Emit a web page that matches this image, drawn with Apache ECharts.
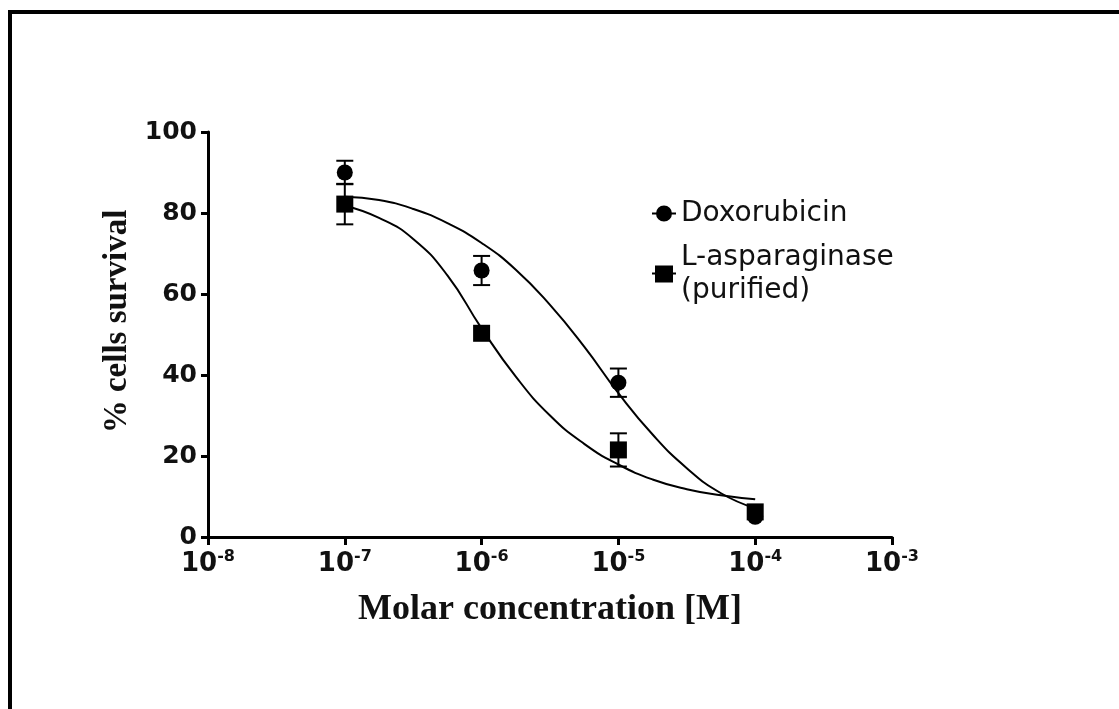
<!DOCTYPE html>
<html>
<head>
<meta charset="utf-8">
<title>Cell survival vs molar concentration</title>
<script src="https://cdn.jsdelivr.net/npm/echarts@6/dist/echarts.min.js"></script>
<style>
    html, body { margin: 0; padding: 0; background: #fff; }
    #chart { width: 1119px; height: 709px; }
</style>
</head>
<body>
<div id="chart"></div>
<script>
// measured points (molar concentration, % survival, error half-width)
const concentrations = [1e-7, 1e-6, 1e-5, 1e-4]
const doxoMean = [90, 65.8, 38.1, 5]
const doxoErr = [2.9, 3.6, 3.5, 0]
const aspMean = [82.2, 50.3, 21.5, 6.2]
const aspErr = [5, 0, 4.1, 0]

// fitted curves, every quarter decade (x = log10 of concentration)
const fitExponents = [-7, -6.75, -6.5, -6.25, -6, -5.75, -5.5, -5.25, -5, -4.75, -4.5, -4.25, -4]
const doxoFit = [84, 83.2, 81, 77.5, 72.6, 66, 57.3, 47, 35.5, 25.3, 17, 10.8, 7.1]
const aspFit = [81.8, 78.8, 73.6, 64.6, 51.5, 39.6, 30, 23, 17.9, 14.2, 11.8, 10.3, 9.3]

const xTickExponents = [-8, -7, -6, -5, -4, -3]
const yTicks = [0, 20, 40, 60, 80, 100]

const seriesNames = ['Doxorubicin', 'L-asparaginase (purified)']

const chart = echarts.init(document.getElementById('chart'))

const pairs = (ys) => concentrations.map((c, i) => [c, ys[i]])
const fitPairs = (ys) => fitExponents.map((e, i) => [e, ys[i]])
const errRows = (m, e) => concentrations.map((c, i) => [c, m[i] - e[i], m[i] + e[i]])

// vertical error bar with caps
function renderErr(params, api) {
    const lo = api.value(1)
    const hi = api.value(2)
    if (hi - lo <= 0) return
    const top = api.coord([api.value(0), hi])
    const bot = api.coord([api.value(0), lo])
    const w = 8.5
    const st = { stroke: '#000', lineWidth: 2 }
    return {
        type: 'group',
        children: [
            { type: 'line', shape: { x1: top[0], y1: top[1], x2: bot[0], y2: bot[1] }, style: st },
            { type: 'line', shape: { x1: top[0] - w, y1: top[1], x2: top[0] + w, y2: top[1] }, style: st },
            { type: 'line', shape: { x1: bot[0] - w, y1: bot[1], x2: bot[0] + w, y2: bot[1] }, style: st }
        ]
    }
}

const legendText = {
    fontFamily: 'DejaVu Sans',
    fontSize: 28,
    color: '#111',
    lineHeight: 33
}

const option = {
    animation: false,
    backgroundColor: '#fff',
    graphic: [
        {
            type: 'polyline',
            shape: { points: [[10, 709], [10, 12], [1119, 12]] },
            style: { stroke: '#000', lineWidth: 4, fill: null }
        }
    ],
    grid: {
        left: 208,
        right: 227,
        top: 132,
        bottom: 172,
        containLabel: false
    },
    legend: [
        {
            data: [seriesNames[0]],
            left: 647,
            top: 192,
            icon: 'path://M0,7H5V9H0Z M19,7H24V9H19Z M12,0A8,8,0,1,1,11.99,0Z',
            itemWidth: 24,
            itemHeight: 16,
            itemGap: 12,
            textStyle: legendText
        },
        {
            data: [seriesNames[1]],
            left: 647,
            top: 236,
            icon: 'path://M0,7H3V9H0Z M21,7H24V9H21Z M3,0H21V17H3Z',
            itemWidth: 24,
            itemHeight: 17,
            itemGap: 12,
            formatter: (name) => name.replace(' (', '\n('),
            textStyle: legendText
        }
    ],
    xAxis: [
        {
            type: 'log',
            logBase: 10,
            min: Math.pow(10, xTickExponents[0]),
            max: Math.pow(10, xTickExponents[xTickExponents.length - 1]),
            splitNumber: xTickExponents.length - 1,
            name: 'Molar concentration [M]',
            nameLocation: 'middle',
            nameGap: 55,
            nameTextStyle: {
                fontFamily: 'Liberation Serif',
                fontWeight: 'bold',
                fontSize: 36,
                color: '#111'
            },
            axisLine: { lineStyle: { color: '#000', width: 3 } },
            axisTick: { length: 8, lineStyle: { color: '#000', width: 3 } },
            minorTick: { show: false },
            splitLine: { show: false },
            axisLabel: {
                margin: 12,
                formatter: (v) => '{b|10}{s|' + Math.round(Math.log10(v)) + '}',
                rich: {
                    b: {
                        fontFamily: 'DejaVu Sans',
                        fontWeight: 'bold',
                        fontSize: 26,
                        lineHeight: 30,
                        color: '#111'
                    },
                    s: {
                        fontFamily: 'DejaVu Sans',
                        fontWeight: 'bold',
                        fontSize: 16,
                        verticalAlign: 'top',
                        color: '#111'
                    }
                }
            }
        },
        {
            // same span in log10 units, used for the fitted curves
            type: 'value',
            min: xTickExponents[0],
            max: xTickExponents[xTickExponents.length - 1],
            show: false
        }
    ],
    yAxis: {
        type: 'value',
        min: yTicks[0],
        max: yTicks[yTicks.length - 1],
        interval: yTicks[1] - yTicks[0],
        name: '% cells survival',
        nameLocation: 'middle',
        nameGap: 72,
        nameTextStyle: {
            fontFamily: 'Liberation Serif',
            fontWeight: 'bold',
            fontSize: 33,
            color: '#111',
            padding: [0, 0, 0, 26]
        },
        axisLine: { show: true, lineStyle: { color: '#000', width: 3 } },
        axisTick: { show: true, length: 7, lineStyle: { color: '#000', width: 3 } },
        splitLine: { show: false },
        axisLabel: {
            margin: 11,
            fontFamily: 'DejaVu Sans',
            fontWeight: 'bold',
            fontSize: 25,
            color: '#111'
        }
    },
    series: [
        {
            name: 'doxo-err',
            type: 'custom',
            renderItem: renderErr,
            data: errRows(doxoMean, doxoErr),
            z: 1
        },
        {
            name: 'asp-err',
            type: 'custom',
            renderItem: renderErr,
            data: errRows(aspMean, aspErr),
            z: 1
        },
        {
            name: 'doxo-fit',
            type: 'line',
            xAxisIndex: 1,
            data: fitPairs(doxoFit),
            smooth: 0.5,
            showSymbol: false,
            lineStyle: { color: '#000', width: 2 },
            z: 2
        },
        {
            name: 'asp-fit',
            type: 'line',
            xAxisIndex: 1,
            data: fitPairs(aspFit),
            smooth: 0.5,
            showSymbol: false,
            lineStyle: { color: '#000', width: 2 },
            z: 2
        },
        {
            name: seriesNames[0],
            type: 'scatter',
            data: pairs(doxoMean),
            symbol: 'circle',
            symbolSize: 16,
            itemStyle: { color: '#000', opacity: 1 },
            z: 3
        },
        {
            name: seriesNames[1],
            type: 'scatter',
            data: pairs(aspMean),
            symbol: 'rect',
            symbolSize: 17,
            itemStyle: { color: '#000', opacity: 1 },
            z: 4
        }
    ]
}

chart.setOption(option)
</script>
</body>
</html>
